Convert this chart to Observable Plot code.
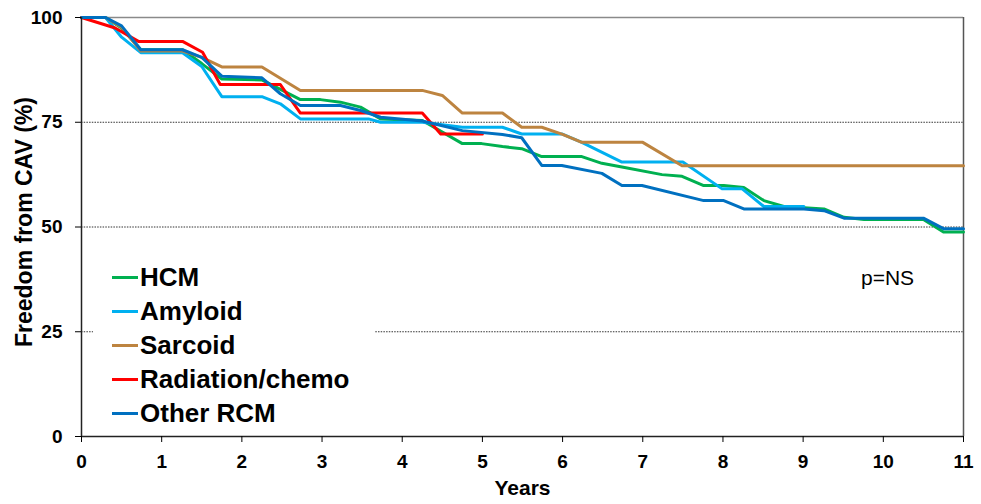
<!DOCTYPE html>
<html>
<head>
<meta charset="utf-8">
<script src="https://cdn.jsdelivr.net/npm/d3@7"></script>
<script src="https://cdn.jsdelivr.net/npm/@observablehq/plot@0.6"></script>
<style>
  html, body { margin: 0; padding: 0; background: #fff; }
  #wrap { position: relative; width: 981px; height: 504px; overflow: hidden; font-family: "Liberation Sans", Arial, sans-serif; }
  #legend { position: absolute; left: 93px; top: 259px; width: 282px; height: 172px; background: #fff; }
  .row { position: absolute; left: 19px; height: 30px; display: flex; align-items: center; font-weight: bold; font-size: 26px; color: #000; white-space: nowrap; }
  .sw { width: 26px; height: 3px; margin-right: 2px; }
  #pns { position: absolute; left: 861px; top: 266px; font-size: 21px; color: #000; }
</style>
</head>
<body>
<div id="wrap"></div>
<script>
// ---- data ----
const seriesNames = ["HCM", "Amyloid", "Sarcoid", "Radiation/chemo", "Other RCM"];
const seriesColors = ["#00b050", "#00b0f0", "#bd8440", "#ff0000", "#0070c0"];
const xTicks = [0,1,2,3,4,5,6,7,8,9,10,11];
const yTicks = [0,25,50,75,100];
const gridLevels = [25,50,75];

const hcmYears =   [0,0.3,0.5,0.74,1.26,1.5,1.75,2.25,2.73,2.98,3.23,3.48,3.73,4.25,4.75,4.99,5.25,5.49,5.74,6.24,6.49,6.74,7.24,7.49,7.76,8.01,8.26,8.51,8.76,9.26,9.51,9.76,10.5,10.75,11];
const hcmValues =  [100,100,97.5,92.3,92.3,89,85.3,85.1,80.4,80.4,79.8,78.6,75.8,75.4,69.9,69.9,69.2,68.7,66.8,66.8,65.2,64.3,62.5,62.1,59.9,59.9,59.4,56.3,54.9,54.3,52.3,51.8,51.8,48.8,48.8];

const amyloidYears =  [0,0.3,0.5,0.74,1.26,1.5,1.75,2.25,2.48,2.73,3.58,3.73,4.25,4.75,5.25,5.49,5.99,6.24,6.74,7.5,7.99,8.24,8.51,9.01];
const amyloidValues = [100,100,95.3,91.6,91.6,88.3,81.1,81.1,79.4,75.8,75.8,75.0,75.0,73.8,73.8,72.2,72.2,70.2,65.5,65.5,59.1,59.1,54.9,54.9];

const sarcoidYears =  [0,0.3,0.5,0.74,1.26,1.5,1.75,2.25,2.73,4.25,4.5,4.75,5.25,5.49,5.74,6.0,6.24,7.0,7.49,11];
const sarcoidValues = [100,100,97.7,92,92,90.5,88.2,88.2,82.6,82.6,81.4,77.2,77.2,73.8,73.8,72.1,70.2,70.2,64.6,64.6];

const radiationYears =  [0,0.42,0.71,1.26,1.51,1.73,2.48,2.73,4.25,4.48,5.0];
const radiationValues = [100,97.5,94.3,94.3,91.7,84,84,77.2,77.2,72.2,72.2];

const otherYears =  [0,0.3,0.5,0.74,1.26,1.5,1.75,2.25,2.48,2.73,3.23,3.48,3.73,4.25,4.75,5.25,5.49,5.74,5.99,6.49,6.74,6.99,7.76,8.01,8.26,9.01,9.26,9.51,10.5,10.75,11];
const otherValues = [100,100,98,92.3,92.3,90.5,86,85.6,81.8,79,79,77.8,76.2,75.3,73,72.1,71.3,64.7,64.7,62.8,59.9,59.9,56.3,56.3,54.3,54.3,53.9,52.1,52.1,49.6,49.6];

const yLabel = "Freedom from CAV (%)";
const xLabel = "Years";
const pText = "p=NS";

// ---- build table ----
const allYears = [hcmYears, amyloidYears, sarcoidYears, radiationYears, otherYears];
const allValues = [hcmValues, amyloidValues, sarcoidValues, radiationValues, otherValues];
const rows = [];
seriesNames.forEach((name, i) => {
  allYears[i].forEach((t, j) => rows.push({series: name, t, v: allValues[i][j]}));
});

const font = "Liberation Sans, Arial, sans-serif";
const chart = Plot.plot({
  width: 981,
  height: 504,
  marginLeft: 81,
  marginRight: 18,
  marginTop: 17,
  marginBottom: 68,
  style: {fontFamily: font, background: "#fff", color: "#000"},
  x: {domain: [0, 11]},
  y: {domain: [0, 100]},
  color: {domain: seriesNames, range: seriesColors},
  marks: [
    Plot.ruleY(gridLevels, {stroke: "#333", strokeWidth: 1, strokeDasharray: "1.5,1.2"}),
    Plot.ruleY([100], {stroke: "#8a8a8a", strokeWidth: 1.5}),
    Plot.ruleX([11], {stroke: "#555", strokeWidth: 1.5}),
    Plot.line(rows, {x: "t", y: "v", z: "series", stroke: "series", strokeWidth: 3, strokeLinejoin: "round"}),
    Plot.ruleX([0], {stroke: "#222", strokeWidth: 1.5}),
    Plot.ruleY([0], {stroke: "#222", strokeWidth: 1.5}),
    Plot.axisX({ticks: xTicks, tickSize: 6, tickPadding: 12, fontSize: 19, fontWeight: "bold", label: null, tickFormat: d => String(d)}),
    Plot.axisY({ticks: yTicks, tickSize: 6, tickPadding: 13, fontSize: 19, fontWeight: "bold", label: null, tickFormat: d => String(d)}),
    Plot.text([yLabel], {frameAnchor: "left", textAnchor: "middle", rotate: -90, dx: -57, dy: -5, fontSize: 23, fontWeight: "bold", fill: "#000"}),
    Plot.text([xLabel], {frameAnchor: "bottom", dy: 58, fontSize: 21, fontWeight: "bold", fill: "#000"})
  ]
});

const wrap = document.getElementById("wrap");
wrap.appendChild(chart);

// legend
const legend = document.createElement("div");
legend.id = "legend";
seriesNames.forEach((name, i) => {
  const r = document.createElement("div");
  r.className = "row";
  r.style.top = (3 + i * 34.2) + "px";
  const sw = document.createElement("span");
  sw.className = "sw";
  sw.style.background = seriesColors[i];
  const tx = document.createElement("span");
  tx.textContent = name;
  r.appendChild(sw); r.appendChild(tx);
  legend.appendChild(r);
});
wrap.appendChild(legend);

const p = document.createElement("div");
p.id = "pns";
p.textContent = pText;
wrap.appendChild(p);
</script>
</body>
</html>
